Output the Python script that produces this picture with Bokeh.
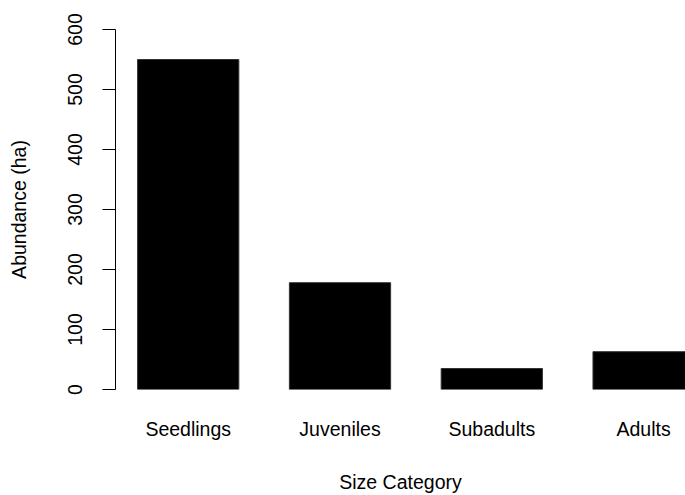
from bokeh.plotting import figure
from bokeh.models import Range1d, FixedTicker, ColumnDataSource
from bokeh.embed import file_html
from bokeh.resources import INLINE

categories = ["Seedlings", "Juveniles", "Subadults", "Adults"]
abundance = [550, 178, 35, 63]
y_ticks = [0, 100, 200, 300, 400, 500, 600]

xs = list(range(len(categories)))
src = ColumnDataSource(dict(x=xs, top=abundance))

FONT = "Liberation Sans"
FS = "19.5px"

p = figure(width=685, height=495, output_backend="svg", toolbar_location=None,
           x_range=Range1d(-0.479, 3.276), y_range=Range1d(0, 600),
           min_border_left=115, min_border_right=0, min_border_top=29, min_border_bottom=106)
p.outline_line_color = None
p.grid.visible = False
p.background_fill_color = "white"
p.border_fill_color = "white"

p.vbar(x="x", top="top", bottom=0, width=0.667, source=src,
       fill_color="black", line_color="#333333", line_width=1)

# x axis
xa = p.xaxis[0]
xa.ticker = FixedTicker(ticks=xs)
xa.major_label_overrides = {i: c for i, c in enumerate(categories)}
xa.axis_line_color = None
xa.major_tick_line_color = None
xa.minor_tick_line_color = None
xa.major_label_standoff = 22
xa.major_label_text_font = FONT
xa.major_label_text_font_size = FS
xa.major_label_text_color = "black"
xa.axis_label = "Size Category"
xa.axis_label_text_font = FONT
xa.axis_label_text_font_size = FS
xa.axis_label_text_font_style = "normal"
xa.axis_label_text_color = "black"
xa.axis_label_standoff = 28

# y axis
ya = p.yaxis[0]
ya.ticker = FixedTicker(ticks=y_ticks)
ya.axis_line_color = "black"
ya.axis_line_width = 1
ya.major_tick_line_color = "black"
ya.major_tick_out = 13
ya.major_tick_in = 0
ya.minor_tick_line_color = None
ya.major_label_orientation = "vertical"
ya.major_label_standoff = 21
ya.major_label_text_font = FONT
ya.major_label_text_font_size = FS
ya.major_label_text_color = "black"
ya.axis_label = "Abundance (ha)"
ya.axis_label_text_font = FONT
ya.axis_label_text_font_size = FS
ya.axis_label_text_font_style = "normal"
ya.axis_label_text_color = "black"
ya.axis_label_standoff = 35

open("out.html", "w").write(file_html(p, INLINE))
